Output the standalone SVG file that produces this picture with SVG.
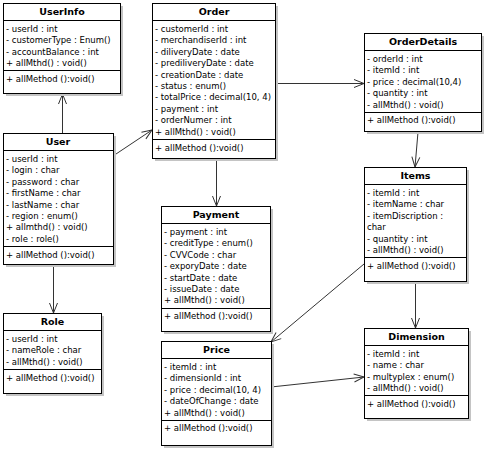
<svg xmlns="http://www.w3.org/2000/svg" width="491" height="459" viewBox="0 0 491 459">
<defs>
<style>
.shadow{fill:#c4c4c4}
.box{fill:#fff;stroke:#000;stroke-width:1}
.sep{stroke:#000;stroke-width:1}
text{font-family:"DejaVu Sans",Verdana,sans-serif;font-size:8.5px;fill:#000}
.h{font-weight:bold;font-size:9.5px;text-anchor:middle}
.conn{fill:none;stroke:#333;stroke-width:1;marker-end:url(#arr)}
</style>
<marker id="arr" markerWidth="12" markerHeight="10" refX="11" refY="5" orient="auto" markerUnits="userSpaceOnUse">
<path d="M1,1 L11,5 L1,9" fill="none" stroke="#333" stroke-width="1"/>
</marker>
</defs>
<rect width="491" height="459" fill="#fff"/>

<g id="connectors">
<line class="conn" x1="62.5" y1="133" x2="62.5" y2="94"/>
<line class="conn" x1="113" y1="156" x2="152" y2="130"/>
<line class="conn" x1="216.5" y1="158" x2="216.5" y2="206"/>
<line class="conn" x1="275" y1="83.5" x2="364" y2="83.5"/>
<line class="conn" x1="418" y1="132" x2="415" y2="167"/>
<line class="conn" x1="364" y1="264" x2="271" y2="342"/>
<line class="conn" x1="415.5" y1="281" x2="415.5" y2="328"/>
<line class="conn" x1="271" y1="387" x2="364" y2="377"/>
<line class="conn" x1="53.5" y1="264" x2="53.5" y2="313"/>
</g>

<g id="UserInfo">
<rect class="shadow" x="6" y="6" width="117" height="90"/>
<rect class="box" x="3.5" y="3.5" width="117" height="90"/>
<text class="h" x="62" y="15">UserInfo</text>
<line class="sep" x1="3.5" y1="20.5" x2="120.5" y2="20.5"/>
<text x="6" y="32">- userId : int</text>
<text x="6" y="43.4">- customerType : Enum()</text>
<text x="6" y="54.8">- accountBalance : int</text>
<text x="6" y="66.2">+ allMthd() : void()</text>
<line class="sep" x1="3.5" y1="70.5" x2="120.5" y2="70.5"/>
<text x="6" y="81.5">+ allMethod ():void()</text>
</g>

<g id="Order">
<rect class="shadow" x="155" y="6" width="123" height="155"/>
<rect class="box" x="152.5" y="3.5" width="123" height="155"/>
<text class="h" x="214" y="15">Order</text>
<line class="sep" x1="152.5" y1="20.5" x2="275.5" y2="20.5"/>
<text x="155" y="32">- customerId : int</text>
<text x="155" y="43.4">- merchandiserId : int</text>
<text x="155" y="54.8">- diliveryDate : date</text>
<text x="155" y="66.2">- prediliveryDate : date</text>
<text x="155" y="77.6">- creationDate : date</text>
<text x="155" y="89">- status : enum()</text>
<text x="155" y="100.4">- totalPrice : decimal(10, 4)</text>
<text x="155" y="111.8">- payment : int</text>
<text x="155" y="123.2">- orderNumer : int</text>
<text x="155" y="134.6">+ allMthd() : void()</text>
<line class="sep" x1="152.5" y1="139.5" x2="275.5" y2="139.5"/>
<text x="155" y="150.5">+ allMethod ():void()</text>
</g>

<g id="OrderDetails">
<rect class="shadow" x="367" y="36" width="117" height="98"/>
<rect class="box" x="364.5" y="33.5" width="117" height="98"/>
<text class="h" x="423" y="45">OrderDetails</text>
<line class="sep" x1="364.5" y1="50.5" x2="481.5" y2="50.5"/>
<text x="367" y="62">- orderId : int</text>
<text x="367" y="73.4">- itemId : int</text>
<text x="367" y="84.8">- price : decimal(10,4)</text>
<text x="367" y="96.2">- quantity : int</text>
<text x="367" y="107.6">- allMthd() : void()</text>
<line class="sep" x1="364.5" y1="112.5" x2="481.5" y2="112.5"/>
<text x="367" y="123">+ allMethod ():void()</text>
</g>

<g id="User">
<rect class="shadow" x="6" y="136" width="110" height="131"/>
<rect class="box" x="3.5" y="133.5" width="110" height="131"/>
<text class="h" x="58" y="145">User</text>
<line class="sep" x1="3.5" y1="150.5" x2="113.5" y2="150.5"/>
<text x="6" y="162">- userId : int</text>
<text x="6" y="173.4">- login : char</text>
<text x="6" y="184.8">- password : char</text>
<text x="6" y="196.2">- firstName : char</text>
<text x="6" y="207.6">- lastName : char</text>
<text x="6" y="219">- region : enum()</text>
<text x="6" y="230.4">+ allmthd() : void()</text>
<text x="6" y="241.8">- role : role()</text>
<line class="sep" x1="3.5" y1="246.5" x2="113.5" y2="246.5"/>
<text x="6" y="257.5">+ allMethod ():void()</text>
</g>

<g id="Payment">
<rect class="shadow" x="164" y="209" width="109" height="125"/>
<rect class="box" x="161.5" y="206.5" width="109" height="125"/>
<text class="h" x="216" y="218">Payment</text>
<line class="sep" x1="161.5" y1="223.5" x2="270.5" y2="223.5"/>
<text x="164" y="235">- payment : int</text>
<text x="164" y="246.4">- creditType : enum()</text>
<text x="164" y="257.8">- CVVCode : char</text>
<text x="164" y="269.2">- exporyDate : date</text>
<text x="164" y="280.6">- startDate : date</text>
<text x="164" y="292">- issueDate : date</text>
<text x="164" y="303.4">+ allMthd() : void()</text>
<line class="sep" x1="161.5" y1="308.5" x2="270.5" y2="308.5"/>
<text x="164" y="319">+ allMethod ():void()</text>
</g>

<g id="Items">
<rect class="shadow" x="367" y="170" width="102" height="114"/>
<rect class="box" x="364.5" y="167.5" width="102" height="114"/>
<text class="h" x="415.5" y="179">Items</text>
<line class="sep" x1="364.5" y1="184.5" x2="466.5" y2="184.5"/>
<text x="367" y="196">- itemId : int</text>
<text x="367" y="207.4">- itemName : char</text>
<text x="367" y="218.8">- itemDiscription :</text>
<text x="367" y="230.2">char</text>
<text x="367" y="241.6">- quantity : int</text>
<text x="367" y="253">- allMthd() : void()</text>
<line class="sep" x1="364.5" y1="257.5" x2="466.5" y2="257.5"/>
<text x="367" y="268.5">+ allMethod ():void()</text>
</g>

<g id="Role">
<rect class="shadow" x="6" y="316" width="98" height="80"/>
<rect class="box" x="3.5" y="313.5" width="98" height="80"/>
<text class="h" x="52.5" y="325">Role</text>
<line class="sep" x1="3.5" y1="330.5" x2="101.5" y2="330.5"/>
<text x="6" y="342">- userId : int</text>
<text x="6" y="353.4">- nameRole : char</text>
<text x="6" y="364.8">- allMthd() : void()</text>
<line class="sep" x1="3.5" y1="369.5" x2="101.5" y2="369.5"/>
<text x="6" y="380.5">+ allMethod ():void()</text>
</g>

<g id="Price">
<rect class="shadow" x="164" y="344" width="110" height="104"/>
<rect class="box" x="161.5" y="341.5" width="110" height="104"/>
<text class="h" x="216.5" y="353">Price</text>
<line class="sep" x1="161.5" y1="358.5" x2="271.5" y2="358.5"/>
<text x="164" y="370">- itemId : int</text>
<text x="164" y="381.4">- dimensionId : int</text>
<text x="164" y="392.8">- price : decimal(10, 4)</text>
<text x="164" y="404.2">- dateOfChange : date</text>
<text x="164" y="415.6">+ allMthd() : void()</text>
<line class="sep" x1="161.5" y1="420.5" x2="271.5" y2="420.5"/>
<text x="164" y="431">+ allMethod ():void()</text>
</g>

<g id="Dimension">
<rect class="shadow" x="367" y="331" width="104" height="90"/>
<rect class="box" x="364.5" y="328.5" width="104" height="90"/>
<text class="h" x="416.5" y="340">Dimension</text>
<line class="sep" x1="364.5" y1="345.5" x2="468.5" y2="345.5"/>
<text x="367" y="357">- itemId : int</text>
<text x="367" y="368.4">- name : char</text>
<text x="367" y="379.8">- multyplex : enum()</text>
<text x="367" y="391.2">- allMthd() : void()</text>
<line class="sep" x1="364.5" y1="395.5" x2="468.5" y2="395.5"/>
<text x="367" y="406.5">+ allMethod ():void()</text>
</g>
</svg>
